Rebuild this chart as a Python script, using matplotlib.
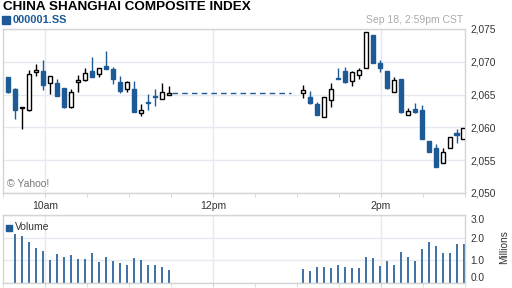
import matplotlib.pyplot as plt
from matplotlib.patches import Rectangle
import numpy as np

# 5-minute candles, morning session 9:30-11:30 and afternoon 13:00-15:00
am_open = [2067.7, 2065.85, 2063.0, 2062.6, 2068.4, 2068.6, 2066.7, 2066.8, 2066.0, 2063.1,
           2066.9, 2067.3, 2068.6, 2068.2, 2069.35, 2068.9, 2066.9, 2065.9, 2065.85, 2062.15,
           2063.85, 2064.75, 2064.4, 2064.9]
am_high = [2067.7, 2066.0, 2063.1, 2068.7, 2069.6, 2070.3, 2067.8, 2067.4, 2066.0, 2065.85,
           2068.0, 2069.05, 2070.8, 2069.0, 2071.65, 2069.2, 2067.8, 2067.1, 2067.1, 2063.6,
           2065.1, 2065.85, 2066.8, 2066.3]
am_low = [2065.2, 2061.3, 2059.7, 2062.5, 2067.9, 2065.75, 2065.1, 2064.8, 2062.9, 2063.0,
          2065.4, 2067.0, 2067.7, 2067.7, 2068.95, 2066.6, 2065.25, 2065.4, 2062.4, 2061.8,
          2062.65, 2063.3, 2064.4, 2064.9]
am_close = [2065.4, 2062.7, 2063.0, 2068.1, 2068.7, 2066.4, 2067.8, 2064.8, 2063.1, 2065.35,
            2067.3, 2068.25, 2067.7, 2069.0, 2068.95, 2067.4, 2065.6, 2066.9, 2062.4, 2062.65,
            2063.75, 2064.65, 2065.4, 2065.3]

pm_open = [2065.24, 2064.63, 2063.52, 2061.53, 2064.13, 2067.5, 2068.6, 2067.12, 2067.99, 2069.0,
           2074.09, 2069.87, 2068.6, 2065.35, 2067.38, 2061.89, 2062.8, 2062.65, 2057.93, 2056.91,
           2054.52, 2056.81, 2059.1, 2058.18]
pm_high = [2066.46, 2065.55, 2063.92, 2064.58, 2066.77, 2069.0, 2069.26, 2068.6, 2069.0, 2074.49,
           2074.09, 2070.27, 2068.6, 2067.68, 2067.38, 2063.0, 2063.72, 2063.41, 2057.93, 2057.42,
           2056.9, 2058.54, 2059.8, 2059.9]
pm_low = [2064.53, 2063.62, 2061.94, 2061.53, 2063.16, 2067.4, 2066.72, 2066.36, 2067.43, 2069.0,
          2069.77, 2068.5, 2065.85, 2065.35, 2062.2, 2061.89, 2062.25, 2058.18, 2056.3, 2054.01,
          2054.52, 2056.81, 2057.57, 2058.18]
pm_close = [2065.65, 2063.77, 2061.94, 2064.58, 2065.8, 2067.4, 2066.97, 2068.45, 2068.75, 2074.49,
            2069.77, 2069.1, 2065.96, 2067.17, 2062.35, 2062.55, 2062.4, 2058.18, 2056.3, 2054.01,
            2056.2, 2058.54, 2058.84, 2059.9]

# volume in millions (morning starts at the second candle)
am_volume = [2.16, 2.07, 1.81, 1.56, 1.41, 1.01, 1.28, 1.15, 1.24, 1.06, 1.06, 1.32,
             0.93, 1.16, 0.97, 0.88, 0.79, 1.10, 1.01, 0.79, 0.79, 0.71, 0.57]
pm_volume = [0.62, 0.53, 0.72, 0.72, 0.68, 0.81, 0.72, 0.68, 0.68, 1.16, 1.12, 0.76,
             0.98, 0.81, 1.37, 1.16, 0.98, 1.51, 1.81, 1.63, 1.32, 1.32, 1.72, 1.72]

price_ticks = [2050, 2055, 2060, 2065, 2070, 2075]
volume_ticks = [0, 1, 2, 3]
time_labels = ["10am", "12pm", "2pm"]

blue = "#1d5a96"
grid = "#e6e9f0"
edge = "#d4d4d4"
txt = "#333333"
plt.rcParams['font.family'] = ['Liberation Sans', 'DejaVu Sans']

# x axis: minutes of wall clock since 9:30
am_x = np.array([3.6 + 5 * i for i in range(len(am_open))])
pm_x = np.array([214.2 + 5 * i for i in range(len(pm_open))])

x = np.concatenate([am_x, pm_x])
o = np.array(am_open + pm_open)
h = np.array(am_high + pm_high)
l = np.array(am_low + pm_low)
c = np.array(am_close + pm_close)

fig = plt.figure(figsize=(5.12, 2.88), dpi=100)
W, H = 512, 288
ax = fig.add_axes([3 / W, 1 - 193 / H, 462 / W, 164 / H])
axv = fig.add_axes([3 / W, 1 - 283 / H, 462 / W, 68 / H])

for a in (ax, axv):
    a.set_xlim(0, 330)
    for s in a.spines.values():
        s.set_color(edge)
        s.set_linewidth(1)
    a.set_xticks([30, 150, 270])
    a.set_xticks(np.arange(0, 331, 30), minor=True)
    a.xaxis.grid(True, which='major', color=grid, linewidth=1)
    a.yaxis.grid(True, color=grid, linewidth=1)
    a.set_axisbelow(True)
    a.yaxis.tick_right()
    a.tick_params(axis='y', length=0, pad=4, labelsize=7.3, labelcolor=txt)
    a.tick_params(axis='x', which='both', length=3, color=edge)

ax.set_xticklabels(time_labels, fontsize=7.5, color=txt)
ax.tick_params(axis='x', pad=3)
axv.set_xticklabels([])

# candles
body_w = 3.4
for xi, oi, hi, li, ci in zip(x, o, h, l, c):
    if ci > oi:
        col, face = "black", "white"
    elif ci == oi:
        col, face = "black", "black"
    else:
        col, face = blue, blue
    ax.vlines(xi, li, hi, color=col, linewidth=1, zorder=2)
    bottom = min(oi, ci)
    height = max(abs(ci - oi), 0.12)
    ax.bar(xi, height, bottom=bottom, width=body_w, facecolor=face, edgecolor=col,
           linewidth=1, zorder=3)

# lunch break line at last morning close
ax.plot([121, 206], [am_close[-1], am_close[-1]], color=blue, linewidth=1,
        dashes=(4, 3), zorder=2)

ax.set_ylim(2050, 2075)
ax.set_yticks(price_ticks)
ax.set_yticklabels([f"{v:,}" for v in price_ticks])

ax.text(0.008, 0.035, "© Yahoo!", transform=ax.transAxes, fontsize=7.5, color="#777777")

# volume
axv.vlines(am_x[1:], 0, am_volume, color=blue, linewidth=1.2)
axv.vlines(pm_x, 0, pm_volume, color=blue, linewidth=1.2)
axv.set_ylim(0, 3)
axv.set_yticks(volume_ticks)
axv.set_yticklabels([f"{v:.1f}" for v in volume_ticks])
vlabels = axv.get_yticklabels()
vlabels[0].set_va('bottom')
vlabels[-1].set_va('top')
fig.patches.append(Rectangle((6 / W, 1 - 231 / H), 6 / W, 6 / H, color=blue,
                             transform=fig.transFigure, figure=fig))
fig.text(15 / W, 1 - 227.5 / H, "Volume", fontsize=7.5, color=txt, va='center')
fig.text(504 / W, 1 - 247 / H, "Millions", rotation=90, fontsize=7.3, color=txt,
         ha='center', va='center')

# header
fig.text(3 / W, 1 - 1.5 / H, "CHINA SHANGHAI COMPOSITE INDEX", fontsize=9.7,
         fontweight='bold', color="black", va='top')
fig.patches.append(Rectangle((2 / W, 1 - 24 / H), 8 / W, 8 / H, color=blue,
                             transform=fig.transFigure, figure=fig))
fig.text(13 / W, 1 - 20 / H, "000001.SS", fontsize=7.9, fontweight='bold', color=blue,
         va='center')
fig.text(463 / W, 1 - 20 / H, "Sep 18, 2:59pm CST", fontsize=7.5, color="#aaaaaa",
         va='center', ha='right')

fig.savefig("out.png", dpi=100)
